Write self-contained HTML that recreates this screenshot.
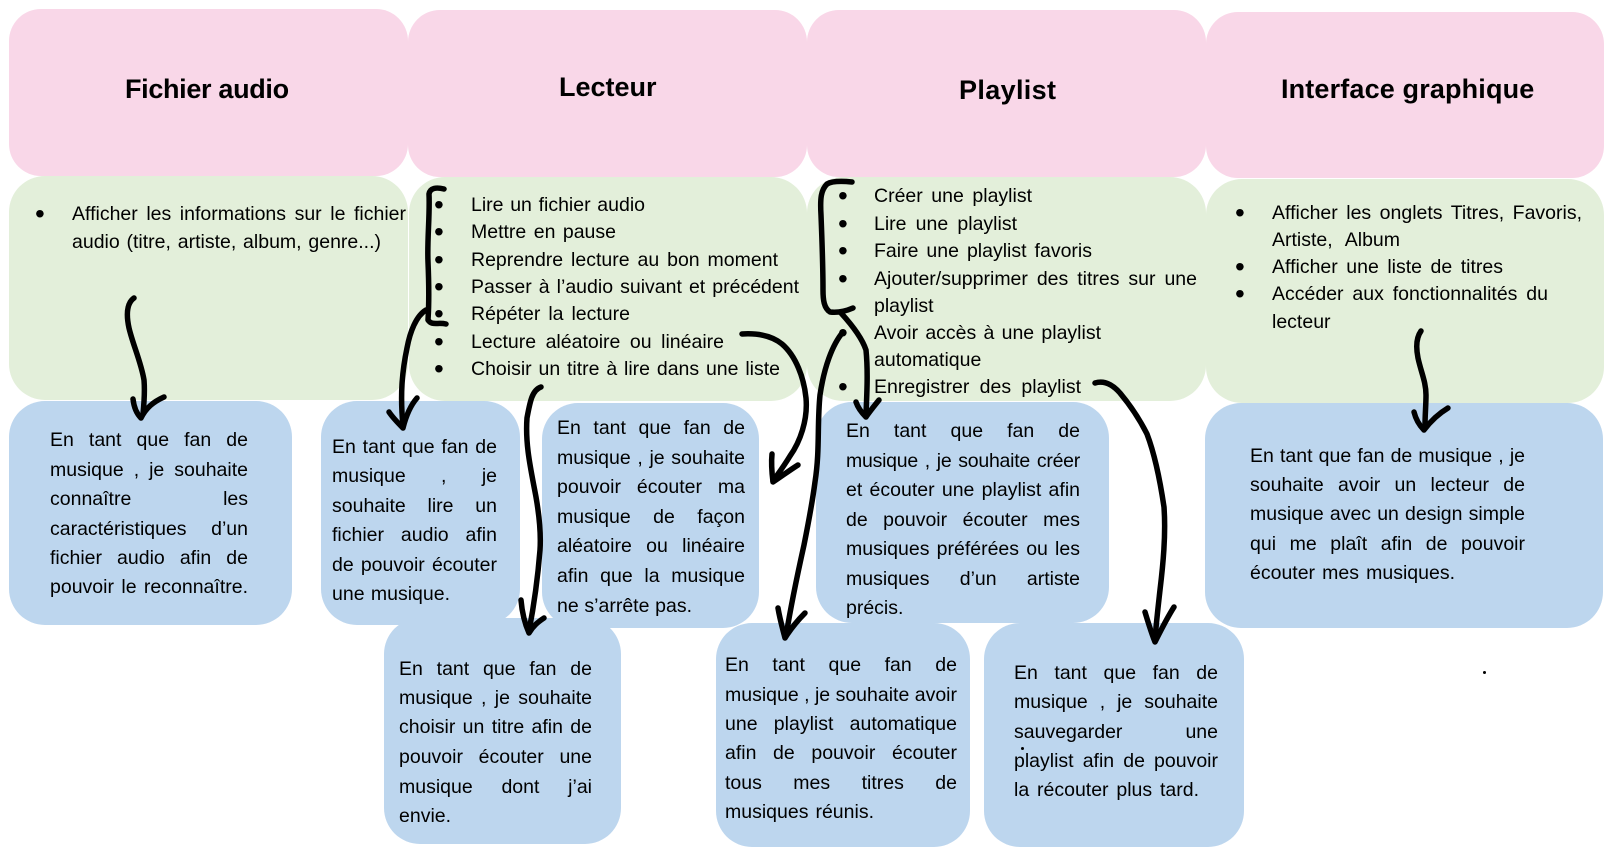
<!DOCTYPE html>
<html lang="fr">
<head>
<meta charset="utf-8">
<title>Fonctionnalités et récits utilisateur</title>
<style>
html,body{margin:0;padding:0;background:#fff;}
#page{position:relative;width:1609px;height:855px;overflow:hidden;background:#fff;font-family:"Liberation Sans",sans-serif;color:#000;}
.b{position:absolute;}
.p{background:#F9D7E8;border-radius:32px;}
.g{background:#E3EFDA;border-radius:36px;}
.c{background:#BDD6EE;border-radius:36px;}
.h{position:absolute;font-weight:bold;font-size:27px;line-height:34px;white-space:nowrap;}
.l{position:absolute;font-size:19.5px;line-height:28px;height:28px;text-align:justify;text-align-last:justify;margin-top:1px;}
.l.f{margin-top:2px;}
.d{position:absolute;font-size:28px;line-height:28px;margin-top:2px;margin-left:-1px;}
.dot{position:absolute;width:3px;height:3px;border-radius:50%;background:#000;}
svg{position:absolute;left:0;top:0;}
</style>
</head>
<body>
<div id="page">

<div class="b p" style="left:9px;top:9px;width:399px;height:167px"></div>
<div class="b p" style="left:408px;top:10px;width:399px;height:167px"></div>
<div class="b p" style="left:807px;top:10px;width:399px;height:167px"></div>
<div class="b p" style="left:1206px;top:12px;width:398px;height:166px"></div>

<div class="b g" style="left:9px;top:176px;width:399px;height:224px"></div>
<div class="b g" style="left:409px;top:177px;width:398px;height:224px"></div>
<div class="b g" style="left:807px;top:177px;width:399px;height:224px"></div>
<div class="b g" style="left:1206px;top:179px;width:398px;height:224px"></div>

<div class="b c" style="left:9px;top:401px;width:283px;height:224px"></div>
<div class="b c" style="left:321px;top:401px;width:199px;height:224px"></div>
<div class="b c" style="left:542px;top:403px;width:217px;height:225px"></div>
<div class="b c" style="left:384px;top:618px;width:237px;height:226px"></div>
<div class="b c" style="left:716px;top:623px;width:254px;height:224px"></div>
<div class="b c" style="left:816px;top:402px;width:293px;height:221px"></div>
<div class="b c" style="left:984px;top:623px;width:260px;height:224px"></div>
<div class="b c" style="left:1205px;top:403px;width:398px;height:225px"></div>

<div class="h" style="left:125px;top:72px;letter-spacing:-.33px">Fichier audio</div>
<div class="h" style="left:559px;top:70px">Lecteur</div>
<div class="h" style="left:959px;top:73px;letter-spacing:.35px">Playlist</div>
<div class="h" style="left:1281px;top:72px;letter-spacing:.15px">Interface graphique</div>

<div class="d" style="left:36px;top:198px">•</div>
<div class="l f" style="left:72px;top:198px;width:334px">Afficher les informations sur le fichier</div>
<div class="l f" style="left:72px;top:226px;width:309px">audio (titre, artiste, album, genre...)</div>

<div class="d" style="left:435px;top:189px">•</div>
<div class="d" style="left:435px;top:216px">•</div>
<div class="d" style="left:435px;top:244px">•</div>
<div class="d" style="left:435px;top:271px">•</div>
<div class="d" style="left:435px;top:298px">•</div>
<div class="d" style="left:435px;top:326px">•</div>
<div class="d" style="left:435px;top:353px">•</div>
<div class="l f" style="left:471px;top:189px;width:174px">Lire un fichier audio</div>
<div class="l f" style="left:471px;top:216px;width:145px">Mettre en pause</div>
<div class="l f" style="left:471px;top:244px;width:307px">Reprendre lecture au bon moment</div>
<div class="l f" style="left:471px;top:271px;width:328px">Passer à l’audio suivant et précédent</div>
<div class="l f" style="left:471px;top:298px;width:159px">Répéter la lecture</div>
<div class="l f" style="left:471px;top:326px;width:253px">Lecture aléatoire ou linéaire</div>
<div class="l f" style="left:471px;top:353px;width:309px">Choisir un titre à lire dans une liste</div>

<div class="d" style="left:839px;top:180px">•</div>
<div class="d" style="left:839px;top:208px">•</div>
<div class="d" style="left:839px;top:235px">•</div>
<div class="d" style="left:839px;top:263px">•</div>
<div class="d" style="left:839px;top:317px">•</div>
<div class="d" style="left:839px;top:371px">•</div>
<div class="l f" style="left:874px;top:180px;width:158px">Créer une playlist</div>
<div class="l f" style="left:874px;top:208px;width:143px">Lire une playlist</div>
<div class="l f" style="left:874px;top:235px;width:218px">Faire une playlist favoris</div>
<div class="l f" style="left:874px;top:263px;width:323px">Ajouter/supprimer des titres sur une</div>
<div class="l f" style="left:874px;top:290px;width:66px">playlist</div>
<div class="l f" style="left:874px;top:317px;width:227px">Avoir accès à une playlist</div>
<div class="l f" style="left:874px;top:344px;width:113px">automatique</div>
<div class="l f" style="left:874px;top:371px;width:207px">Enregistrer des playlist</div>

<div class="d" style="left:1236px;top:197px">•</div>
<div class="d" style="left:1236px;top:251px">•</div>
<div class="d" style="left:1236px;top:278px">•</div>
<div class="l f" style="left:1272px;top:197px;width:310px">Afficher les onglets Titres, Favoris,</div>
<div class="l f" style="left:1272px;top:224px;width:128px">Artiste, Album</div>
<div class="l f" style="left:1272px;top:251px;width:231px">Afficher une liste de titres</div>
<div class="l f" style="left:1272px;top:278px;width:276px">Accéder aux fonctionnalités du</div>
<div class="l f" style="left:1272px;top:306px;width:62px">lecteur</div>

<div class="l" style="left:50px;top:425px;width:198px">En tant que fan de</div>
<div class="l" style="left:50px;top:455px;width:198px">musique , je souhaite</div>
<div class="l" style="left:50px;top:484px;width:198px">connaître les</div>
<div class="l" style="left:50px;top:514px;width:198px">caractéristiques d’un</div>
<div class="l" style="left:50px;top:543px;width:198px">fichier audio afin de</div>
<div class="l" style="left:50px;top:572px;width:198px">pouvoir le reconnaître.</div>

<div class="l" style="left:332px;top:432px;width:165px">En tant que fan de</div>
<div class="l" style="left:332px;top:461px;width:165px">musique , je</div>
<div class="l" style="left:332px;top:491px;width:165px">souhaite lire un</div>
<div class="l" style="left:332px;top:520px;width:165px">fichier audio afin</div>
<div class="l" style="left:332px;top:550px;width:165px">de pouvoir écouter</div>
<div class="l" style="left:332px;top:579px;width:118px">une musique.</div>

<div class="l" style="left:557px;top:413px;width:188px">En tant que fan de</div>
<div class="l" style="left:557px;top:443px;width:188px">musique , je souhaite</div>
<div class="l" style="left:557px;top:472px;width:188px">pouvoir écouter ma</div>
<div class="l" style="left:557px;top:502px;width:188px">musique de façon</div>
<div class="l" style="left:557px;top:531px;width:188px">aléatoire ou linéaire</div>
<div class="l" style="left:557px;top:561px;width:188px">afin que la musique</div>
<div class="l" style="left:557px;top:591px;width:135px">ne s’arrête pas.</div>

<div class="l" style="left:399px;top:654px;width:193px">En tant que fan de</div>
<div class="l" style="left:399px;top:683px;width:193px">musique , je souhaite</div>
<div class="l" style="left:399px;top:712px;width:193px">choisir un titre afin de</div>
<div class="l" style="left:399px;top:742px;width:193px">pouvoir écouter une</div>
<div class="l" style="left:399px;top:772px;width:193px">musique dont j’ai</div>
<div class="l" style="left:399px;top:801px;width:51px">envie.</div>

<div class="l" style="left:725px;top:650px;width:232px">En tant que fan de</div>
<div class="l" style="left:725px;top:680px;width:232px">musique , je souhaite avoir</div>
<div class="l" style="left:725px;top:709px;width:232px">une playlist automatique</div>
<div class="l" style="left:725px;top:738px;width:232px">afin de pouvoir écouter</div>
<div class="l" style="left:725px;top:768px;width:232px">tous mes titres de</div>
<div class="l" style="left:725px;top:797px;width:149px">musiques réunis.</div>

<div class="l" style="left:846px;top:416px;width:234px">En tant que fan de</div>
<div class="l" style="left:846px;top:446px;width:234px;letter-spacing:-.25px">musique , je souhaite créer</div>
<div class="l" style="left:846px;top:475px;width:234px">et écouter une playlist afin</div>
<div class="l" style="left:846px;top:505px;width:234px">de pouvoir écouter mes</div>
<div class="l" style="left:846px;top:534px;width:234px">musiques préférées ou les</div>
<div class="l" style="left:846px;top:564px;width:234px">musiques d’un artiste</div>
<div class="l" style="left:846px;top:593px;width:57px">précis.</div>

<div class="l" style="left:1014px;top:658px;width:204px">En tant que fan de</div>
<div class="l" style="left:1014px;top:687px;width:204px">musique , je souhaite</div>
<div class="l" style="left:1014px;top:717px;width:204px">sauvegarder une</div>
<div class="l" style="left:1014px;top:746px;width:204px">playlist afin de pouvoir</div>
<div class="l" style="left:1014px;top:775px;width:185px">la récouter plus tard.</div>

<div class="l" style="left:1250px;top:441px;width:275px">En tant que fan de musique , je</div>
<div class="l" style="left:1250px;top:470px;width:275px">souhaite avoir un lecteur de</div>
<div class="l" style="left:1250px;top:499px;width:275px">musique avec un design simple</div>
<div class="l" style="left:1250px;top:529px;width:275px">qui me plaît afin de pouvoir</div>
<div class="l" style="left:1250px;top:558px;width:205px">écouter mes musiques.</div>

<div class="dot" style="left:1483px;top:671px"></div>
<div class="dot" style="left:1021px;top:747px"></div>

<svg width="1609" height="855" viewBox="0 0 1609 855" fill="none" stroke="#000" stroke-width="5.5" stroke-linecap="round" stroke-linejoin="round">
  <g>
    <path d="M134 298C127 303 126 314 129 328C133 345 141 362 144 380C145 392 144 404 143 414"/>
    <path d="M133 399C134 408 137 414 141 418C146 408 153 402 164 397"/>
  </g>
  <path d="M444 189C436 187 430 188 429 194C430 215 427 240 428 262C429 285 429 305 428 320C432 326 438 322 446 324"/>
  <g>
    <path d="M426 310C416 316 410 332 407 348C402 372 400 395 403 426"/>
    <path d="M389 412C393 418 398 423 403 428C406 416 410 406 417 398"/>
  </g>
  <g>
    <path d="M541 387C532 390 530 402 527 418C525 445 531 470 536 497C540 520 541 535 540 550C538 575 535 600 529 631"/>
    <path d="M521 600C522 612 525 624 529 633C533 626 538 622 544 618"/>
  </g>
  <g>
    <path d="M742 334C758 333 772 336 782 344C796 356 804 378 806 398C808 420 800 442 790 456C784 466 778 474 773 481"/>
    <path d="M772 454C771 464 772 474 773 482C782 476 790 470 798 465"/>
  </g>
  <path d="M852 182C842 181 832 181 827 184C821 190 820 198 821 215C822 240 823 265 823 290C823 300 824 308 830 312C838 313 846 311 853 308"/>
  <g>
    <path d="M841 313C852 325 862 338 866 350C868 370 867 392 866 414"/>
    <path d="M856 402C858 408 862 413 866 417C870 411 875 405 879 400"/>
  </g>
  <g>
    <path d="M843 332C832 345 824 368 820 395C817 425 820 450 815 482C812 505 808 525 804 545C798 572 791 605 786 636"/>
    <path d="M778 608C780 620 783 630 785 638C790 630 797 621 805 613"/>
  </g>
  <g>
    <path d="M1095 383C1105 380 1113 385 1120 393C1130 405 1140 420 1147 434C1155 455 1160 480 1164 507C1166 535 1163 565 1160 590C1158 608 1156 625 1155 640"/>
    <path d="M1145 612C1148 622 1151 632 1155 642C1161 630 1167 618 1174 607"/>
  </g>
  <g>
    <path d="M1421 331C1416 338 1416 348 1418 358C1421 372 1426 382 1426 395C1426 405 1425 415 1425 426"/>
    <path d="M1414 412C1416 420 1420 426 1424 430C1430 422 1438 414 1448 408"/>
  </g>
</svg>
</div>
</body>
</html>
